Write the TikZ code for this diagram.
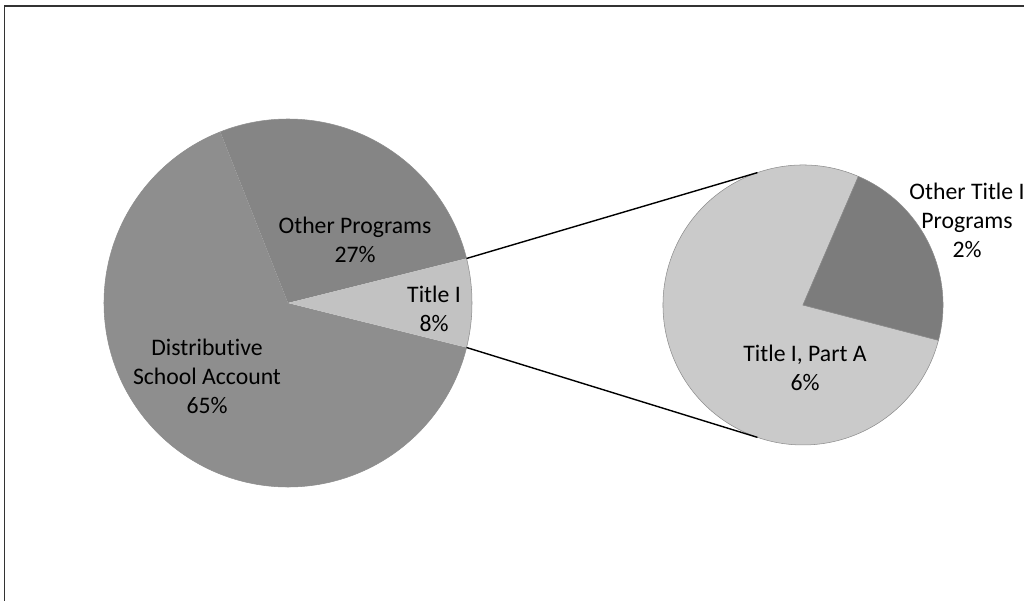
\documentclass[tikz,border=0pt]{standalone}
\usepackage{fontspec}
\setmainfont{Carlito}[RawFeature=-liga]
\usetikzlibrary{calc}
\definecolor{dsagray}{HTML}{8E8E8E}
\definecolor{othergray}{HTML}{858585}
\definecolor{titlegray}{HTML}{C2C2C2}
\definecolor{partagray}{HTML}{CACACA}
\definecolor{restgray}{HTML}{7C7C7C}
\tikzset{
    slice/.style={draw=black!45, line width=0.3pt},
    lbl/.style={align=center, font=\fontsize{13.5}{16.5}\selectfont, inner sep=0pt},
    zoomline/.style={draw=black, line width=0.8pt},
    frame/.style={draw=black!80, line width=0.6pt},
}

\begin{document}
\begin{tikzpicture}[x=0.02cm, y=0.02cm]
    \useasboundingbox (0,0) rectangle (1024,601);
    \clip (0,0) rectangle (1024,601);

    \draw[frame] (4.5,0) -- (4.5,595) -- (1024,595);

    \coordinate (big) at (288,298);
    \coordinate (small) at (803,296);

    % main pie
    \fill[dsagray] (big) -- ++(111.6:184) arc[start angle=111.6, end angle=346, radius=184] -- cycle;
    \fill[othergray] (big) -- ++(14:184) arc[start angle=14, end angle=111.6, radius=184] -- cycle;
    \fill[titlegray] (big) -- ++(-14:184) arc[start angle=-14, end angle=14, radius=184] -- cycle;
    \draw[slice] (big) circle[radius=184];

    % breakdown of title I
    \fill[partagray, slice] (small) -- ++(66.7:140) arc[start angle=66.7, end angle=345.4, radius=140] -- cycle;
    \fill[restgray, slice] (small) -- ++(-14.6:140) arc[start angle=-14.6, end angle=66.7, radius=140] -- cycle;

    \coordinate (bigtop) at ($(big)+(14:184)$);
    \coordinate (bigbot) at ($(big)+(-14:184)$);
    \coordinate (smalltop) at ($(small)+(109:140)$);
    \coordinate (smallbot) at ($(small)+(251:140)$);
    \draw[zoomline] (bigtop) -- (smalltop);
    \draw[zoomline] (bigbot) -- (smallbot);

    \node[lbl] (other) at (355,361) {Other Programs\\27\%};
    \node[lbl] (title) at (434,292) {Title I\\8\%};
    \node[lbl] (dsa) at (207,225) {Distributive\\School Account\\65\%};
    \node[lbl] (parta) at (805,233) {Title I, Part A\\6\%};
    \node[lbl] (rest) at (967,381) {Other Title I\\Programs\\2\%};
\end{tikzpicture}
\end{document}
